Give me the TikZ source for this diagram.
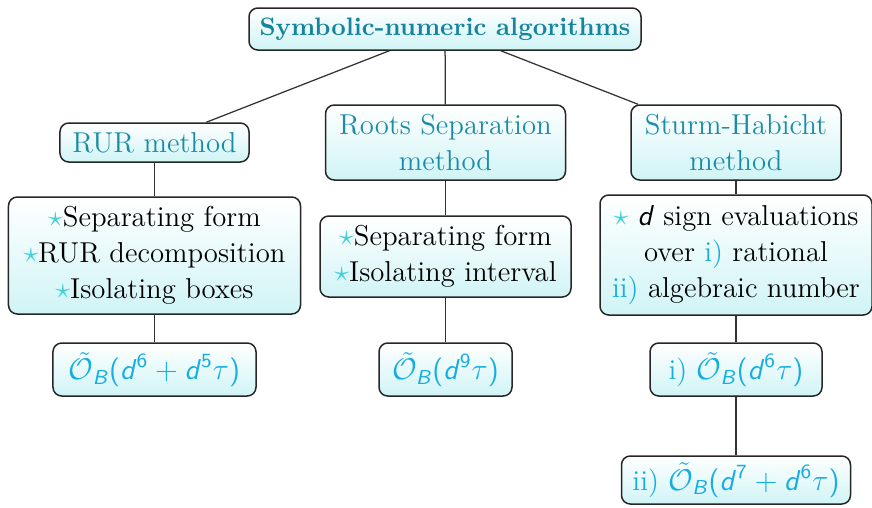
\documentclass[tikz,border=0pt]{standalone}
\usepackage{amsmath}
\usepackage{amssymb}
\definecolor{titleteal}{RGB}{22,132,158}
\definecolor{methteal}{RGB}{28,140,165}
\definecolor{startq}{RGB}{64,208,216}
\definecolor{cxcyan}{RGB}{22,174,224}
\definecolor{boxcyan}{RGB}{208,244,246}
% sans-serif pieces for the complexity bounds
\newcommand\sfv[1]{\text{\sffamily\slshape #1\/}}
\newcommand\sfn[1]{\text{\sffamily #1}}
\newcommand\sst{\textcolor{startq}{$\star$}}
\newcommand\sfd{\sfv{d}}
\newcommand\bigO{\tilde{\mathcal{O}}_{\sfv{B}}}
\newcommand\lpar{\sfn{(}}
\newcommand\rpar{\sfn{)}}
\begin{document}
\begin{tikzpicture}[x=0.4pt,y=-0.4pt,
  box/.style={draw=black!85, line width=0.6pt, rounded corners=3.5pt,
    top color=white, bottom color=boxcyan, align=center, inner sep=0pt,
    font=\fontsize{11.5}{14.4}\selectfont},
  method/.style={box, text=methteal},
  cost/.style={box, text=cxcyan},
  link/.style={draw=black!80, line width=0.5pt}]
\useasboundingbox (0,0) rectangle (872,507);

% root
\node[box, minimum width=156.8pt, minimum height=16.8pt, text=titleteal,
  font=\bfseries\fontsize{10.1}{12}\selectfont] (root) at (445,29)
  {Symbolic-numeric algorithms};

% methods
\node[method, minimum width=75.6pt, minimum height=15.6pt] (rur) at (154.5,142.5)
  {RUR method};
\node[method, minimum width=96pt, minimum height=30pt] (rs) at (445.5,142.5)
  {Roots Separation\\method};
\node[method, minimum width=84pt, minimum height=30pt] (sh) at (736,142.5)
  {Sturm-Habicht\\method};

% steps
\node[box, minimum width=116.8pt, minimum height=46.8pt] (rurlist) at (154.5,255.5)
  {\sst Separating form\\\sst RUR decomposition\\\sst Isolating boxes};
\node[box, minimum width=100.4pt, minimum height=32.4pt] (rslist) at (445.5,256.5)
  {\sst Separating form\\\sst Isolating interval};
\node[box, minimum width=108.8pt, minimum height=48pt] (shlist) at (736,255)
  {\sst\ $\sfd$ sign evaluations\\over \textcolor{cxcyan}{i)} rational\\
   \textcolor{cxcyan}{ii)} algebraic number};

% complexity bounds
\node[cost, minimum width=81.2pt, minimum height=21.2pt] (rurcost) at (154.5,369.5)
  {$\bigO\lpar\sfd^{\sfn{6}}+\sfd^{\sfn{5}}\tau\rpar$};
\node[cost, minimum width=53.2pt, minimum height=21.2pt] (rscost) at (445.5,369.5)
  {$\bigO\lpar\sfd^{\sfn{9}}\tau\rpar$};
\node[cost, minimum width=68.8pt, minimum height=21.2pt] (shcosta) at (736,369.5)
  {i) $\bigO\lpar\sfd^{\sfn{6}}\tau\rpar$};
\node[cost, minimum width=91.6pt, minimum height=19.2pt] (shcostb) at (736,480)
  {ii) $\bigO\lpar\sfd^{\sfn{7}}+\sfd^{\sfn{6}}\tau\rpar$};

% connectors
\draw[link] (root) -- (rur);
\draw[link] (root) -- (rs);
\draw[link] (root) -- (sh);
\draw[link] (rur) -- (rurlist);
\draw[link] (rurlist) -- (rurcost);
\draw[link] (rs) -- (rslist);
\draw[link] (rslist) -- (rscost);
\draw[link] (sh) -- (shlist);
\draw[link] (shlist) -- (shcosta);
\draw[link] (shcosta) -- (shcostb);
\end{tikzpicture}
\end{document}
